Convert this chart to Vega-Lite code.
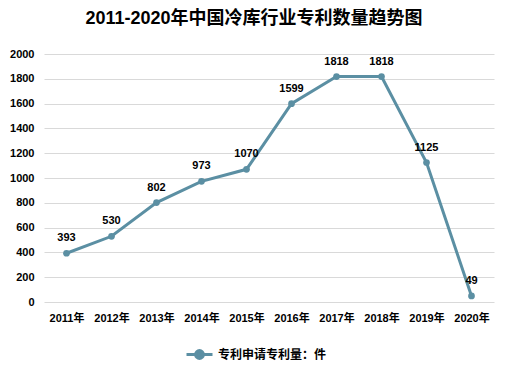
{
  "$schema": "https://vega.github.io/schema/vega-lite/v6.json",
  "autosize": "none",
  "width": 450,
  "height": 248,
  "padding": {"left": 44, "top": 54, "right": 17, "bottom": 63},
  "background": "white",
  "config": {
    "font": "Liberation Sans, Noto Sans CJK SC",
    "view": {"stroke": null}
  },
  "title": {
    "text": "2011-2020年中国冷库行业专利数量趋势图",
    "fontSize": 18,
    "fontWeight": "bold",
    "color": "#000000",
    "font": "Liberation Sans, Noto Sans CJK SC",
    "anchor": "middle",
    "dx": -15,
    "offset": 20
  },
  "data": {
    "values": [
      {"year": "2011年", "value": 393, "series": "专利申请专利量：件"},
      {"year": "2012年", "value": 530, "series": "专利申请专利量：件"},
      {"year": "2013年", "value": 802, "series": "专利申请专利量：件"},
      {"year": "2014年", "value": 973, "series": "专利申请专利量：件"},
      {"year": "2015年", "value": 1070, "series": "专利申请专利量：件"},
      {"year": "2016年", "value": 1599, "series": "专利申请专利量：件"},
      {"year": "2017年", "value": 1818, "series": "专利申请专利量：件"},
      {"year": "2018年", "value": 1818, "series": "专利申请专利量：件"},
      {"year": "2019年", "value": 1125, "series": "专利申请专利量：件"},
      {"year": "2020年", "value": 49, "series": "专利申请专利量：件"}
    ]
  },
  "encoding": {
    "x": {
      "field": "year",
      "type": "ordinal",
      "sort": null,
      "scale": {"type": "point", "padding": 0.5},
      "axis": {
        "title": null,
        "labelAngle": 0,
        "labelFontSize": 11,
        "labelFontWeight": "bold",
        "labelColor": "#000000",
        "ticks": false,
        "domain": false,
        "grid": false,
        "labelPadding": 10
      }
    },
    "y": {
      "field": "value",
      "type": "quantitative",
      "scale": {"domain": [0, 2000], "nice": false},
      "axis": {
        "title": null,
        "format": "d",
        "values": [0, 200, 400, 600, 800, 1000, 1200, 1400, 1600, 1800, 2000],
        "labelFontSize": 11,
        "labelFontWeight": "bold",
        "labelColor": "#000000",
        "ticks": false,
        "domain": false,
        "grid": true,
        "gridColor": "#d9d9d9",
        "gridWidth": 1,
        "labelPadding": 10
      }
    }
  },
  "layer": [
    {
      "mark": {"type": "line", "strokeWidth": 3, "color": "#5b8fa3"},
      "encoding": {
        "color": {
          "field": "series",
          "type": "nominal",
          "scale": {"range": ["#5b8fa3"]},
          "legend": {
            "title": null,
            "orient": "none",
            "legendX": 141,
            "legendY": 286,
            "direction": "horizontal",
            "symbolType": "M-1,0L-0.3,0M0.3,0L1,0M-0.3,0A0.3,0.3 0 1 1 0.3,0A0.3,0.3 0 1 1 -0.3,0Z",
            "symbolSize": 676,
            "symbolStrokeWidth": 3,
            "symbolStrokeColor": "#5b8fa3",
            "symbolFillColor": "#5b8fa3",
            "labelFontSize": 12,
            "labelFontWeight": "bold",
            "labelColor": "#000000",
            "labelOffset": 4
          }
        }
      }
    },
    {
      "mark": {"type": "point", "filled": true, "size": 45, "color": "#5b8fa3", "opacity": 1}
    },
    {
      "mark": {"type": "text", "dy": -15, "fontSize": 11, "fontWeight": "bold", "color": "#000000"},
      "encoding": {"text": {"field": "value", "type": "quantitative", "format": "d"}}
    }
  ]
}
